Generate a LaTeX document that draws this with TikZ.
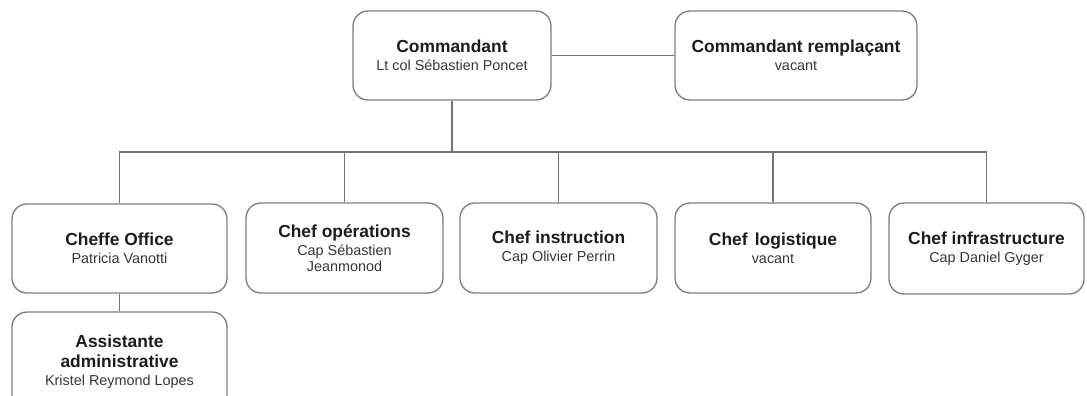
\documentclass[tikz,border=0pt]{standalone}
\usepackage{fontspec}
\setmainfont{Liberation Sans}
\definecolor{boxline}{RGB}{125,125,125}
\definecolor{conline}{RGB}{115,115,115}
\definecolor{titlecol}{RGB}{28,28,28}
\definecolor{subcol}{RGB}{55,55,55}
\newcommand{\ttl}[1]{{\fontsize{17.4}{18}\selectfont\bfseries\color{titlecol}#1}}
\newcommand{\sbt}[1]{{\fontsize{14.4}{16.5}\selectfont\color{subcol}#1}}
\tikzset{
  orgbox/.style={draw=boxline, line width=1.3pt, rounded corners=15pt, fill=white,
    align=center, inner sep=0pt, font=\fontsize{17.4}{18}\selectfont},
  conn/.style={draw=conline, line width=1.3pt}
}
\begin{document}
\begin{tikzpicture}[x=1pt,y=-1pt]
\useasboundingbox (0,0) rectangle (1087,396);
\clip (0,0) rectangle (1087,396);
\fill[white] (0,0) rectangle (1087,396);

\node[orgbox, minimum width=198pt, minimum height=89pt] (cmd) at (452,55.5)
  {\ttl{Commandant}\\ \sbt{Lt col Sébastien Poncet}};
\node[orgbox, minimum width=242pt, minimum height=89pt] (rep) at (796,55.5)
  {\ttl{Commandant remplaçant}\\ \sbt{vacant}};

\node[orgbox, minimum width=215pt, minimum height=89pt] (office) at (119.5,248.5)
  {\ttl{Cheffe Office}\\ \sbt{Patricia Vanotti}};
\node[orgbox, minimum width=197pt, minimum height=90pt] (ops) at (344.5,248)
  {\ttl{Chef opérations}\\ \sbt{Cap Sébastien}\\[-1.5pt] \sbt{Jeanmonod}};
\node[orgbox, minimum width=197pt, minimum height=90pt] (instr) at (558.5,248)
  {\ttl{Chef instruction}\\ \sbt{Cap Olivier Perrin}};
\node[orgbox, minimum width=196pt, minimum height=90pt] (logi) at (773,248)
  {\ttl{Chef\hspace{0.42em}logistique}\\ \sbt{vacant}};
\node[orgbox, minimum width=195pt, minimum height=91pt] (infra) at (986.5,248.5)
  {\ttl{Chef infrastructure}\\ \sbt{Cap Daniel Gyger}};

\node[orgbox, minimum width=215pt, minimum height=100pt] (assist) at (119.5,362)
  {\ttl{Assistante}\\[2pt] \ttl{administrative}\\ \sbt{Kristel Reymond Lopes}};

\coordinate (bus) at (452,152);

\draw[conn] (cmd.east) -- (rep.west);
\draw[conn] (cmd.south) -- (bus);
\draw[conn] (office.north) |- (bus);
\draw[conn] (ops.north) |- (bus);
\draw[conn] (instr.north) |- (bus);
\draw[conn] (logi.north) |- (bus);
\draw[conn] (infra.north) |- (bus);
\draw[conn] (office.south) -- (assist.north);
\end{tikzpicture}
\end{document}
